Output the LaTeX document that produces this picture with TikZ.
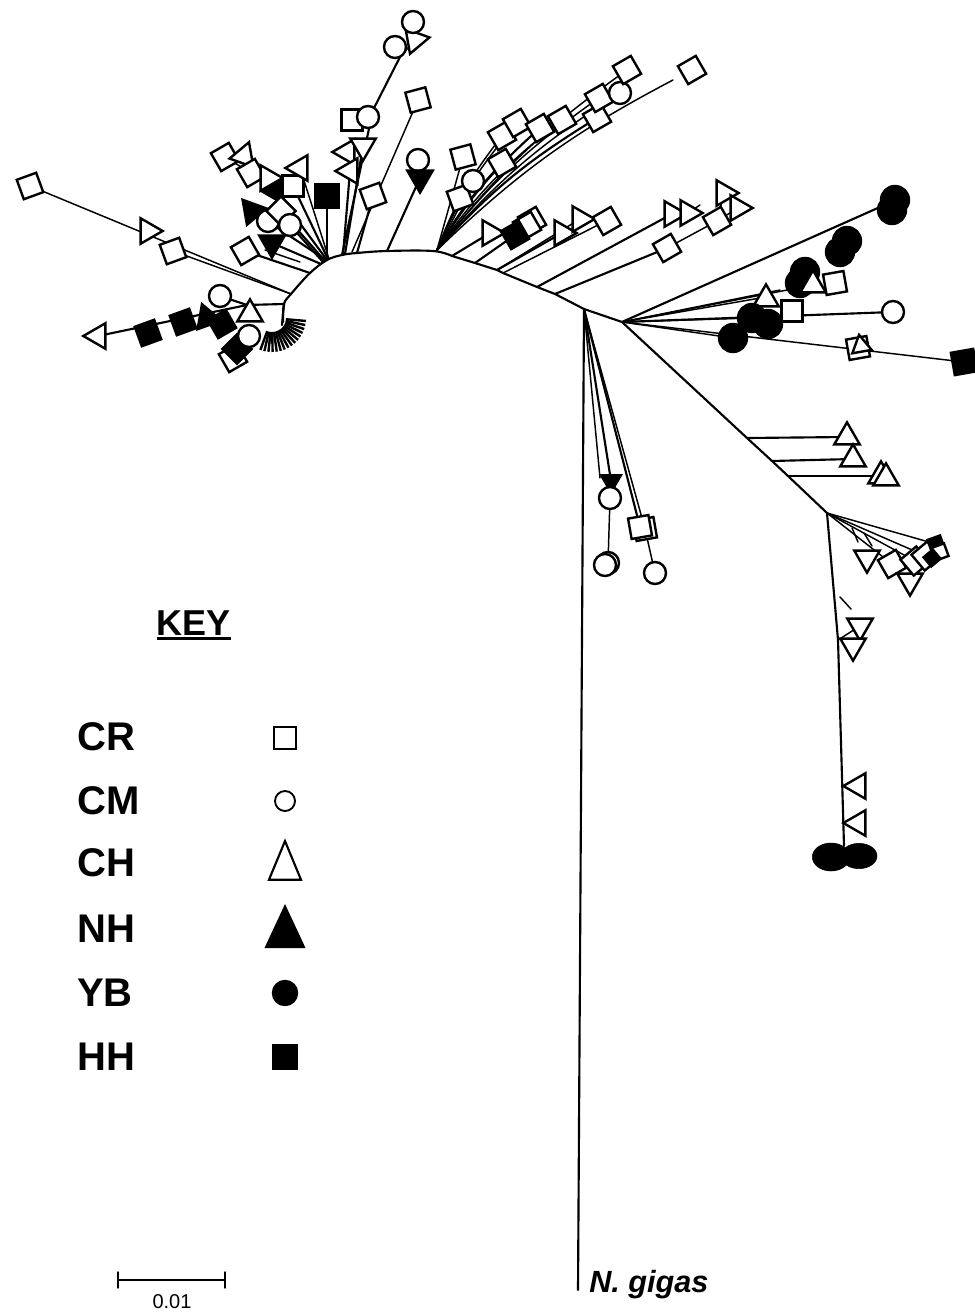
\documentclass[tikz,border=0pt]{standalone}
\usepackage{fontspec}
\setmainfont{Liberation Sans}
\usetikzlibrary{shapes.geometric,backgrounds,calc}
\begin{document}
\begin{tikzpicture}[x=0.75pt,y=-0.75pt,
  tree/.style={line width=1.6pt,line cap=round},
  twig/.style={line width=1.1pt,line cap=round},
  mk/.style={draw=black,line width=1.8pt,fill=white,inner sep=0pt,outer sep=0pt},
  sqO/.style={mk,rectangle,minimum size=15.5pt},
  sqF/.style={sqO,fill=black},
  ciO/.style={mk,circle,minimum size=16.5pt},
  ciF/.style={mk,circle,fill=black,minimum size=21pt},
  trO/.style={mk,regular polygon,regular polygon sides=3,minimum size=22pt},
  trF/.style={trO,fill=black},
  lab/.style={font=\fontsize{30}{32}\selectfont\bfseries,anchor=west,inner sep=0pt}
]
\useasboundingbox (0,0) rectangle (974,1312);

% ---------- internal coordinates ----------
\coordinate (ng) at (578,1290);
\coordinate (j0) at (584,309);
\coordinate (y0) at (622,322);
\coordinate (d1) at (827,513);
\coordinate (d2) at (838,640);
\coordinate (d3) at (844,846);
\coordinate (a1) at (555,294);
\coordinate (a2) at (537,287);
\coordinate (a3) at (503,273);
\coordinate (a4) at (497,270);
\coordinate (a5) at (475,263);
\coordinate (a6) at (452,256);
\coordinate (a7) at (433,251);
\coordinate (a8) at (387,251);
\coordinate (a9) at (357,253);
\coordinate (a10) at (342,255);
\coordinate (a11) at (327,260);
\coordinate (a12) at (310,273);
\coordinate (a13) at (291,294);
\coordinate (a14) at (284,304);
\coordinate (a15) at (283,322);
\coordinate (tb1) at (373,110);
\coordinate (tb2) at (400,57);
\coordinate (f0) at (437,250);
\coordinate (c1) at (747,438);
\coordinate (c2) at (772,461);
\coordinate (c3) at (788,476);
\coordinate (b1) at (247,305);

% ---------- markers: top-left cluster ----------
\node[sqO,rotate=30] (tl1) at (225,157) {};
\node[trO,rotate=-20] (tl2) at (244,156) {};
\node[sqO,rotate=30] (tl3) at (251,173) {};
\node[trO,rotate=30] (tl4) at (268,178) {};
\node[trF,rotate=-30] (tl7) at (276,191) {};
\node[sqO] (tl5) at (293,186) {};
\node[trO,rotate=90] (tl6) at (300,168) {};
\node[trF,rotate=-80] (tl8) at (252,211) {};
\node[ciO] (tl11) at (268,221) {};
\node[sqO,rotate=45] (tl9) at (281,211) {};
\node[ciO] (tl10) at (290,225) {};
\node[trF,rotate=180] (tl12) at (272,243) {};
\node[sqO,rotate=30] (tl13) at (245,251) {};
\node[sqF,minimum size=17pt] (tl14) at (327,196) {};
% long left branch
\node[sqO,rotate=20] (ll1) at (30,186) {};
\node[trO,rotate=-90] (ll2) at (148,231) {};
\node[sqO,rotate=20] (ll3) at (173,251) {};
% top branches
\node[sqO] (tb3) at (352,120) {};
\node[ciO] (tb4) at (368,117) {};
\node[trO,rotate=90] (tb5) at (347,152) {};
\node[trO,rotate=180] (tb6) at (363,146) {};
\node[trO,rotate=90] (tb7) at (350,171) {};
\node[ciO] (tb8) at (395,47) {};
\node[trO,rotate=160] (tb9) at (415,40) {};
\node[ciO] (tb10) at (413,22) {};
\node[sqO,rotate=20] (tb11) at (373,196) {};
\node[sqO,rotate=15] (tb12) at (418,100) {};
\node[ciO] (tb13) at (418,160) {};
\node[trF,rotate=180] (tb14) at (420,178) {};
% upper fan
\node[sqO,rotate=15] (fa1) at (463,157) {};
\node[sqO,rotate=20] (fa3) at (460,198) {};
\node[ciO] (fa2) at (473,181) {};
\node[sqO,rotate=30] (fa4) at (502,163) {};
\node[sqO,rotate=30] (fa5) at (502,136) {};
\node[sqO,rotate=30] (fa6) at (517,123) {};
\node[sqO,rotate=30] (fa7) at (540,128) {};
\node[sqO,rotate=30] (fa8) at (562,120) {};
\node[sqO,rotate=30] (fa9) at (597,118) {};
\node[sqO,rotate=30] (fa10) at (599,98) {};
\node[ciO] (fa11) at (620,93) {};
\node[sqO,rotate=30] (fa12) at (627,70) {};
\node[sqO,rotate=30] (fa13) at (692,70) {};
\coordinate (fa14) at (673,80);
% lower fan
\node[trO,rotate=-90] (lf1) at (490,233) {};
\node[sqO,rotate=30] (lf3) at (532,221) {};
\node[sqO,rotate=30] (lf2b) at (527,226) {};
\node[sqF,rotate=30] (lf2) at (515,235) {};
\node[trO,rotate=-90] (lf4) at (562,233) {};
\node[trO,rotate=-90] (lf5) at (580,219) {};
\node[sqO,rotate=30] (lf6) at (607,221) {};
\node[trO,rotate=-90] (lf7) at (672,214) {};
\node[trO,rotate=-90] (lf8) at (688,213) {};
\node[sqO,rotate=30] (lf9) at (667,248) {};
\node[sqO,rotate=30] (lf10) at (717,221) {};
\node[trO,rotate=-90] (lf11) at (724,193) {};
\node[trO,rotate=-90] (lf12) at (738,208) {};
\coordinate (lf13) at (700,205);
\coordinate (lf14) at (600,224);
% YB cluster
\node[ciF] (yb1) at (805,272) {};
\node[ciF] (yb2) at (800,283) {};
\node[ciF] (yb3) at (847,241) {};
\node[ciF] (yb4) at (840,252) {};
\node[ciF] (yb5) at (895,200) {};
\node[ciF] (yb6) at (892,210) {};
\node[trO] (yb7) at (813,285) {};
\node[sqO,rotate=10] (yb8) at (835,283) {};
\node[trO] (yb9) at (766,299) {};
\node[sqO] (yb10) at (792,311) {};
\node[ciO] (yb11) at (893,312) {};
\node[ciF] (yb12) at (752,318) {};
\node[ciF] (yb13) at (768,324) {};
\node[ciF] (yb14) at (733,338) {};
\node[sqO,rotate=10] (yb15) at (858,348) {};
\node[trO,rotate=10,minimum size=17pt] (yb16) at (861,346) {};
\node[sqF,rotate=10,minimum size=17pt] (yb17) at (964,362) {};
\coordinate (yb18) at (880,207);
% CH on diagonal
\node[trO] (ch1) at (847,437) {};
\node[trO] (ch2) at (853,459) {};
\node[trO] (ch3) at (881,476) {};
\node[trO] (ch4) at (886,478) {};
% right cluster
\node[trO,rotate=180] (rc1) at (867,558) {};
\node[sqO,rotate=30] (rc2) at (892,564) {};
\node[trO,rotate=180] (rc3) at (910,581) {};
\node[sqO,rotate=40] (rc4) at (915,561) {};
\node[sqO,rotate=40] (rc5) at (926,556) {};
\node[sqF,rotate=20,minimum size=10pt] (rc6) at (936,544) {};
\node[sqO,rotate=20,minimum size=10pt] (rc7) at (940,552) {};
\node[sqF,rotate=40,minimum size=9pt] (rc8) at (932,558) {};
% lower branch
\node[trO,rotate=180] (lb1) at (860,626) {};
\node[trO,rotate=180] (lb2) at (853,646) {};
\node[trO,rotate=90] (lb3) at (858,786) {};
\node[trO,rotate=90] (lb4) at (858,823) {};
\node[draw,fill=black,ellipse,minimum width=28pt,minimum height=21pt] (bl1) at (831,857) {};
\node[draw,fill=black,ellipse,minimum width=27pt,minimum height=19pt] (bl2) at (859,856) {};
% circles group
\node[trF,rotate=180,minimum size=17pt] (cg1) at (611,481) {};
\node[ciO] (cg2) at (610,498) {};
\node[ciO] (cg3) at (608,563) {};
\node[ciO] (cg4) at (605,565) {};
\node[sqO,rotate=10] (cg5) at (645,529) {};
\node[sqO,rotate=10] (cg6) at (640,527) {};
\node[ciO] (cg7) at (655,573) {};
% bottom-left cluster
\node[trO,rotate=90] (bc1) at (98,336) {};
\node[sqF,rotate=20] (bc2) at (148,333) {};
\node[sqF,rotate=20] (bc3) at (183,322) {};
\node[sqO,rotate=30] (bc11) at (233,358) {};
\node[sqF,rotate=45] (bc10) at (237,349) {};
\node[trF,rotate=20] (bc5) at (207,318) {};
\node[sqF,rotate=30] (bc6) at (222,324) {};
\node[ciO] (bc4) at (220,296) {};
\node[trO] (bc7) at (250,314) {};
\node[ciO] (bc8) at (249,336) {};

% ---------- connectors ----------
\begin{pgfonlayer}{background}
\draw[tree] (ng) -- (j0);
\draw[tree] (j0) -- (y0) -- (c1) -- (c2) -- (c3) -- (d1) -- (d2) -- (d3);
\draw[tree] (j0) -- (a1) -- (a2) -- (a3) -- (a4) -- (a5) -- (a6);
\draw[tree] plot[smooth,tension=0.6] coordinates {(a6) (a7) (a8) (a9) (a10) (a11) (a12) (a13) (a14) (a15)};
% top-left
\draw[tree] (a12) -- (tl13);
\draw[tree] (321,264) -- (tl12);
\draw[tree] (323,262) -- (tl10);
\draw[tree] (325,261) -- (tl9);
\draw[tree] (326,260) -- (tl8);
\draw[tree] (327,260) -- (tl7);
\draw[tree] (328,259) -- (tl5);
\draw[twig] (329,259) -- (tl6);
\draw[tree] (a11) -- (tl14);
\draw[twig] (tl7) -- (tl4) -- (tl3) -- (tl1);
\draw[twig] (tl3) -- (tl2);
\draw[twig] (300,262) -- (265,250);
% long left
\draw[twig] (a13) -- (ll1);
\draw[twig] (a13) -- (ll3);
% top branches
\draw[tree] (a10) -- (tb1) -- (tb2);
\draw[twig] (tb2) -- (tb8);
\draw[twig] (tb2) -- (tb9);
\draw[twig] (tb1) -- (tb4);
\draw[tree] (343,255) -- (tb7);
\draw[tree] (345,254) -- (tb6);
\draw[twig] (tb7) -- (tb5);
\draw[tree] (a9) -- (tb11);
\draw[twig] (352,252) -- (tb12);
\draw[tree] (a8) -- (tb14);
% upper fan
\draw[twig] (f0) -- (fa1);
\draw[twig] (f0) -- (fa3);
\draw[twig] (f0) -- (fa2);
\draw[tree] (f0) to[bend left=6] (fa4);
\draw[twig] (f0) to[bend left=8] (fa5);
\draw[twig] (f0) to[bend left=8] (fa6);
\draw[tree] (f0) to[bend left=8] (fa7);
\draw[twig] (f0) to[bend left=8] (fa8);
\draw[tree] (f0) to[bend left=8] (fa9);
\draw[twig] (f0) to[bend left=8] (fa10);
\draw[twig] (f0) to[bend left=8] (fa11);
\draw[twig] (f0) to[bend left=8] (fa12);
\draw[twig] (f0) to[bend left=8] (fa14);
% lower fan
\draw[tree] (a6) -- (lf1);
\draw[tree] (a5) -- (lf2);
\draw[tree] (a4) -- (lf4);
\draw[twig] (a4) -- (lf5);
\draw[twig] (a3) -- (lf14);
\draw[twig] (lf5) -- (lf6);
\draw[tree] (a2) -- (lf7);
\draw[twig] (lf7) -- (lf8) -- (lf13);
\draw[tree] (a1) -- (lf9);
\draw[twig] (lf9) -- (lf10);
\draw[twig] (lf10) -- (lf11);
\draw[twig] (lf10) -- (lf12);
% YB
\draw[tree] (y0) -- (yb18);
\draw[twig] (y0) -- (yb7);
\draw[twig] (y0) -- (780,290);
\draw[twig] (y0) -- (772,296);
\draw[tree] (y0) -- (yb11);
\draw[twig] (y0) -- (yb17);
\draw[twig] (y0) -- (yb14);
\draw[twig] (y0) -- (yb12);
% CH
\draw[tree] (c1) -- (ch1);
\draw[tree] (c2) -- (ch2);
\draw[tree] (c3) -- (ch3);
% right cluster
\draw[twig] (d1) -- (rc6);
\draw[twig] (d1) -- (rc5);
\draw[twig] (d1) -- (rc4);
\draw[twig] (d1) -- (rc2);
\draw[twig] (852,528) -- (858,542);
\draw[twig] (864,533) -- (872,546);
% lower branch
\draw[twig] (840,597) -- (851,609);
\draw[twig] (d2) -- (lb1);
% circles group
\draw[tree] (j0) -- (cg1);
\draw[twig] (j0) -- (600,478);
\draw[twig] (cg2) -- (cg3);
\draw[tree] (j0) -- (cg6);
\draw[twig] (j0) -- (cg5);
\draw[twig] (cg5) -- (cg7);
% bottom-left cluster
\draw[tree] (a14) -- (b1);
\draw[tree] (b1) -- (bc1);
\draw[tree] (b1) -- (bc4);
\draw[tree] (a14) -- (282,325);
\foreach \ang in {5,12,...,110}
  \draw[line width=1.8pt] ($(272,318)+(\ang:14)$) -- ($(272,318)+(\ang:34)$);
\end{pgfonlayer}

% ---------- key ----------
\node[font=\fontsize{27}{30}\selectfont\bfseries,inner sep=0pt] (key) at (194,623) {KEY};
\draw[line width=1.8pt] ($(key.south west)+(0,3)$) -- ($(key.south east)+(0,3)$);
\node[lab] (kcr) at (77,737) {CR};
\node[lab] (kcm) at (77,801) {CM};
\node[lab] (kch) at (77,863) {CH};
\node[lab] (knh) at (77,929) {NH};
\node[lab] (kyb) at (77,993) {YB};
\node[lab] (khh) at (77,1057) {HH};
\node[mk,rectangle,minimum size=17pt,line width=1.4pt] (ksq) at (285,738) {};
\node[mk,circle,minimum size=15pt,line width=1.4pt] (kci) at (285,801) {};
\node[mk,isosceles triangle,shape border rotate=90,isosceles triangle apex angle=45,minimum height=26pt,minimum width=24pt,line width=1.6pt] (ktr) at (285,869) {};
\node[mk,isosceles triangle,shape border rotate=90,isosceles triangle apex angle=50,minimum height=27pt,minimum width=28pt,fill=black] (ktf) at (285,935) {};
\node[mk,circle,fill=black,minimum size=18pt] (kcf) at (285,993) {};
\node[mk,rectangle,fill=black,minimum size=18pt] (ksf) at (285,1057) {};

% ---------- scale bar ----------
\coordinate (s1) at (118,1280);
\coordinate (s2) at (225,1280);
\draw[twig] (s1) -- (s2);
\draw[twig] ($(s1)+(0,-8)$) -- ($(s1)+(0,8)$);
\draw[twig] ($(s2)+(0,-8)$) -- ($(s2)+(0,8)$);
\node[font=\fontsize{15}{18}\selectfont,inner sep=0pt] (sc) at (172,1302) {0.01};
\node[font=\fontsize{23}{26}\selectfont\bfseries\itshape,anchor=west,inner sep=0pt] (ngl) at (589,1285) {N. gigas};
\end{tikzpicture}
\end{document}
